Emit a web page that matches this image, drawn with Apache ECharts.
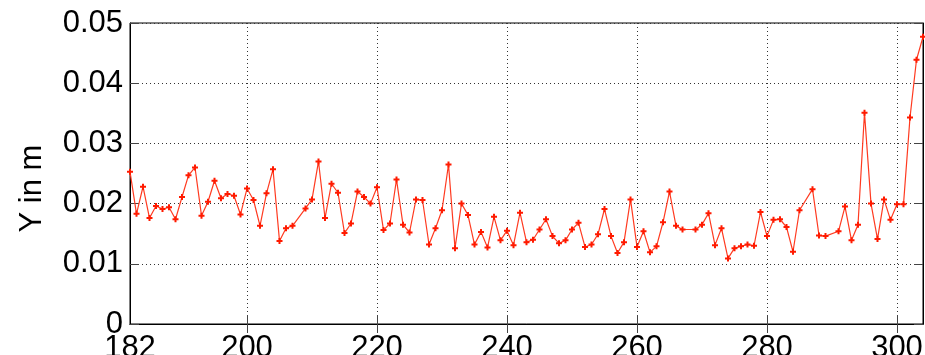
<!DOCTYPE html>
<html>
<head>
<meta charset="utf-8">
<script src="https://cdn.jsdelivr.net/npm/echarts@6/dist/echarts.min.js"></script>
<style>
  html, body { margin: 0; padding: 0; background: #fff; }
  #chart { width: 925px; height: 355px; }
</style>
</head>
<body>
<div id="chart"></div>
<script>
// Sample positions along the track and the measured Y offset (m)
const xValues = [
  182, 183, 184, 185, 186, 187, 188, 189, 190, 191, 192, 193, 194, 195, 196, 197, 198, 199,
  200, 201, 202, 203, 204, 205, 206, 207, 209, 210, 211, 212, 213, 214, 215, 216, 217, 218, 219,
  220, 221, 222, 223, 224, 225, 226, 227, 228, 229, 230, 231, 232, 233, 234, 235, 236, 237, 238, 239,
  240, 241, 242, 243, 244, 245, 246, 247, 248, 249, 250, 251, 252, 253, 254, 255, 256, 257, 258, 259,
  260, 261, 262, 263, 264, 265, 266, 267, 269, 270, 271, 272, 273, 274, 275, 276, 277, 278, 279,
  280, 281, 282, 283, 284, 285, 287, 288, 289, 291, 292, 293, 294, 295, 296, 297, 298, 299,
  300, 301, 302, 303, 304
];
const yValues = [
  0.0253, 0.0183, 0.0228, 0.0176, 0.0196, 0.0191, 0.0194, 0.0174, 0.0211, 0.0247, 0.0260, 0.0180, 0.0203, 0.0238, 0.0209, 0.0216, 0.0213, 0.0182,
  0.0225, 0.0206, 0.0163, 0.0217, 0.0257, 0.0138, 0.0159, 0.0163, 0.0192, 0.0207, 0.0270, 0.0176, 0.0233, 0.0218, 0.0151, 0.0167, 0.0220, 0.0211, 0.0200,
  0.0227, 0.0156, 0.0167, 0.0240, 0.0165, 0.0152, 0.0207, 0.0206, 0.0132, 0.0159, 0.0189, 0.0265, 0.0126, 0.0200, 0.0181, 0.0132, 0.0153, 0.0127, 0.0178, 0.0139,
  0.0155, 0.0131, 0.0185, 0.0136, 0.0140, 0.0157, 0.0174, 0.0146, 0.0134, 0.0139, 0.0157, 0.0168, 0.0128, 0.0132, 0.0149, 0.0191, 0.0146, 0.0118, 0.0136, 0.0207,
  0.0128, 0.0154, 0.0119, 0.0129, 0.0169, 0.0220, 0.0163, 0.0157, 0.0157, 0.0165, 0.0184, 0.0131, 0.0159, 0.0109, 0.0126, 0.0129, 0.0132, 0.0130, 0.0186,
  0.0146, 0.0173, 0.0174, 0.0161, 0.0120, 0.0189, 0.0224, 0.0147, 0.0146, 0.0154, 0.0195, 0.0139, 0.0165, 0.0351, 0.0200, 0.0141, 0.0207, 0.0173,
  0.0199, 0.0199, 0.0343, 0.0439, 0.0477
];

// Axis tick positions
const xTicks = [182, 200, 220, 240, 260, 280, 300];
const xGridTicks = [200, 220, 240, 260, 280, 300];
const yTicks = [0, 0.01, 0.02, 0.03, 0.04, 0.05];
const yAxisName = 'Y in m';

const points = xValues.map((x, i) => [x, yValues[i]]);

const FONT = 'Liberation Sans, Arial, Helvetica, sans-serif';
const FONT_SIZE = 31;
const dotted = { show: true, lineStyle: { color: '#333', type: [1, 3], width: 1 } };
const tickStyle = { show: true, inside: true, length: 9, lineStyle: { color: '#444', width: 1 } };

const chart = echarts.init(document.getElementById('chart'), null, { renderer: 'canvas' });
chart.setOption({
  animation: false,
  backgroundColor: '#fff',
  grid: {
    left: 130, right: 2, top: 23, bottom: 31,
    containLabel: false, outerBoundsMode: 'none',
    show: true, borderColor: '#000', borderWidth: 1, backgroundColor: '#fff'
  },
  xAxis: [
    {
      type: 'value', min: 182, max: 304, position: 'bottom',
      axisLine: { show: true, lineStyle: { color: '#000', width: 1 } },
      axisTick: Object.assign({ customValues: xGridTicks }, tickStyle),
      axisLabel: {
        customValues: xTicks, margin: 9,
        color: '#000', fontSize: FONT_SIZE, fontFamily: FONT
      },
      splitLine: dotted
    },
    {
      type: 'value', min: 182, max: 304, position: 'top',
      axisLine: { show: true, lineStyle: { color: '#000', width: 1 } },
      axisTick: Object.assign({ customValues: xGridTicks }, tickStyle),
      axisLabel: { show: false },
      splitLine: { show: false }
    }
  ],
  yAxis: [
    {
      type: 'value', min: 0, max: 0.05, interval: 0.01, position: 'left',
      name: yAxisName, nameLocation: 'middle', nameGap: 82, nameRotate: 90,
      nameTextStyle: { color: '#000', fontSize: FONT_SIZE, fontFamily: FONT, padding: [0, 30, 0, 0] },
      axisLine: { show: true, lineStyle: { color: '#000', width: 1 } },
      axisTick: Object.assign({ customValues: yTicks }, tickStyle),
      axisLabel: {
        customValues: yTicks, margin: 7,
        color: '#000', fontSize: FONT_SIZE, fontFamily: FONT,
        formatter: v => (v === 0 ? '0' : v.toFixed(2))
      },
      splitLine: dotted
    },
    {
      type: 'value', min: 0, max: 0.05, interval: 0.01, position: 'right',
      axisLine: { show: true, lineStyle: { color: '#000', width: 1 } },
      axisTick: Object.assign({ customValues: yTicks }, tickStyle),
      axisLabel: { show: false },
      splitLine: { show: false }
    }
  ],
  series: [
    {
      type: 'line',
      data: points,
      xAxisIndex: 0, yAxisIndex: 0,
      symbol: 'path://M2,0H4V2H6V4H4V6H2V4H0V2H2Z',
      symbolSize: 6,
      showAllSymbol: true,
      itemStyle: { color: '#ff1a00' },
      lineStyle: { color: '#ff3a20', width: 1.2 },
      clip: false
    }
  ]
});
</script>
</body>
</html>
